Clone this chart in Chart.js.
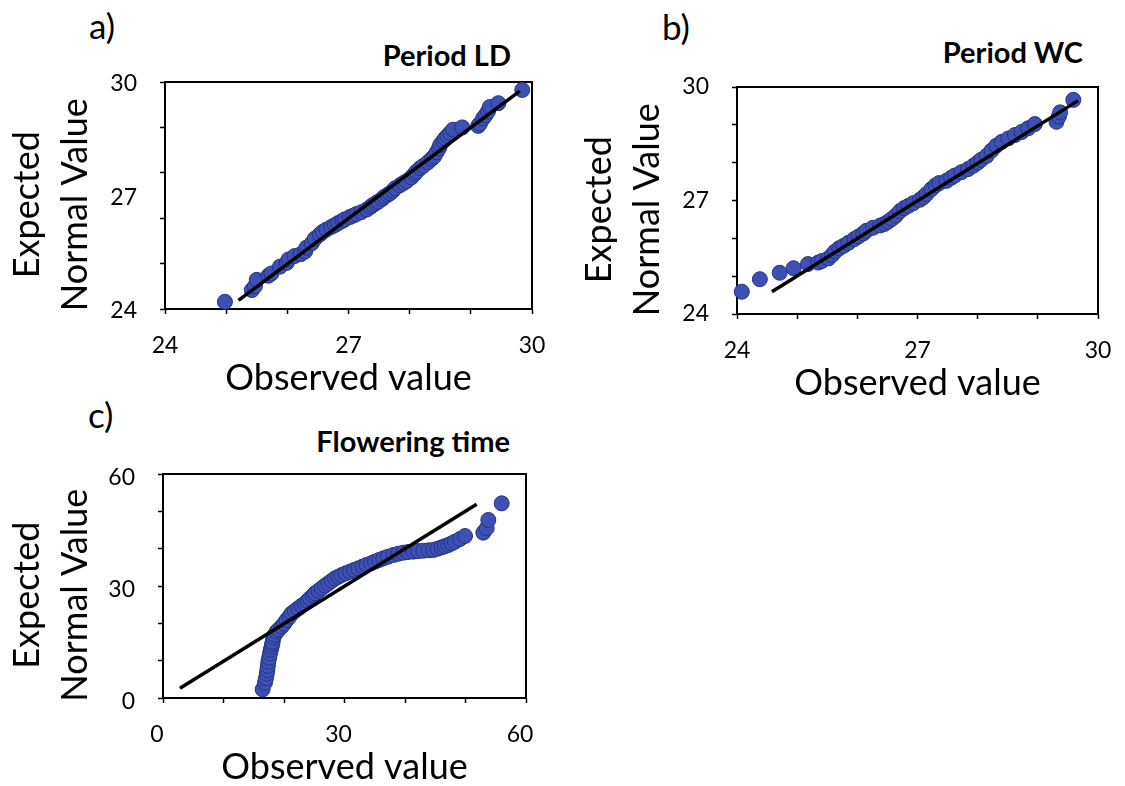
<!DOCTYPE html>
<html>
<head>
<meta charset="utf-8">
<title>Normal probability plots</title>
<script src="https://cdn.jsdelivr.net/npm/chart.js@4/dist/chart.umd.min.js"></script>
<style>
  html, body { margin: 0; padding: 0; background: #fff; overflow: hidden; }
  #page { position: relative; width: 1125px; height: 786px; overflow: hidden;
          font-family: Lato, "Open Sans", sans-serif; color: #000; }
  #page canvas { position: absolute; }
  .tag  { position: absolute; font-size: 35px; line-height: 1; white-space: nowrap; }
  .head { position: absolute; font-size: 29px; font-weight: 700; line-height: 1;
          white-space: nowrap; text-align: right; }
</style>
</head>
<body>
<div id="page">
  <div class="tag" style="left:89px; top:8px;">a)</div>
  <div class="tag" style="left:662px; top:9px;">b)</div>
  <div class="tag" style="left:88px; top:397px;">c)</div>
  <div class="head" style="right:614px; top:40px;">Period LD</div>
  <div class="head" style="right:42px; top:37px;">Period WC</div>
  <div class="head" style="right:615px; top:426px;">Flowering time</div>
  <canvas id="plotLD" width="560" height="350" style="left:0; top:60px;"></canvas>
  <canvas id="plotWC" width="553" height="350" style="left:572px; top:65px;"></canvas>
  <canvas id="plotFT" width="560" height="347" style="left:0; top:452px;"></canvas>
</div>

<script>
// ---- Period LD (hours): observed vs expected normal quantiles ----
const ldObserved = [24.98, 25.42, 25.47, 25.50, 25.69, 25.74, 25.88, 25.99, 26.02, 26.12,
  26.22, 26.29, 26.31, 26.40, 26.45, 26.53, 26.58, 26.64, 26.72, 26.78,
  26.83, 26.90, 26.94, 27.02, 27.08, 27.13, 27.21, 27.30, 27.36, 27.40,
  27.45, 27.49, 27.55, 27.59, 27.64, 27.68, 27.72, 27.76, 27.84, 27.90,
  27.95, 28.03, 28.08, 28.11, 28.17, 28.22, 28.30, 28.36, 28.40, 28.44,
  28.48, 28.50, 28.55, 28.58, 28.62, 28.66, 28.71, 28.86, 29.12, 29.15,
  29.20, 29.24, 29.28, 29.31, 29.45, 29.84];
const ldExpected = [24.19, 24.50, 24.60, 24.77, 24.88, 24.94, 25.12, 25.22, 25.31, 25.40,
  25.45, 25.52, 25.62, 25.74, 25.86, 25.97, 26.04, 26.10, 26.17, 26.22,
  26.27, 26.33, 26.37, 26.43, 26.47, 26.51, 26.56, 26.63, 26.70, 26.75,
  26.80, 26.84, 26.91, 26.97, 27.02, 27.06, 27.12, 27.19, 27.27, 27.33,
  27.38, 27.48, 27.57, 27.63, 27.72, 27.78, 27.88, 27.97, 28.03, 28.14,
  28.25, 28.34, 28.44, 28.51, 28.58, 28.65, 28.74, 28.80, 28.84, 28.90,
  29.04, 29.12, 29.22, 29.34, 29.44, 29.79];
const ldLineX = [25.20, 29.80];
const ldLineY = [24.23, 29.76];
const ldXMarks = [24, 25, 26, 27, 28, 29, 30];
const ldXLabels = [24, 27, 30];
const ldYMarks = [24, 25.2, 26.4, 27.6, 28.8, 30];
const ldYLabels = [24, 27, 30];

// ---- Period WC (hours) ----
const wcObserved = [24.08, 24.38, 24.71, 24.94, 25.18, 25.35, 25.41, 25.52, 25.58, 25.63,
  25.70, 25.77, 25.85, 25.95, 26.02, 26.10, 26.15, 26.26, 26.38, 26.45,
  26.51, 26.58, 26.64, 26.71, 26.78, 26.85, 26.93, 27.04, 27.10, 27.15,
  27.23, 27.30, 27.36, 27.48, 27.56, 27.62, 27.73, 27.84, 27.93, 28.00,
  28.06, 28.15, 28.23, 28.31, 28.40, 28.51, 28.62, 28.73, 28.84, 28.95,
  29.31, 29.35, 29.37, 29.59];
const wcExpected = [24.59, 24.92, 25.09, 25.21, 25.32, 25.36, 25.40, 25.47, 25.56, 25.65,
  25.74, 25.80, 25.88, 25.98, 26.05, 26.13, 26.20, 26.28, 26.34, 26.38,
  26.44, 26.52, 26.60, 26.72, 26.80, 26.86, 26.93, 27.02, 27.09, 27.17,
  27.30, 27.40, 27.46, 27.52, 27.60, 27.66, 27.75, 27.83, 27.92, 28.00,
  28.08, 28.18, 28.32, 28.45, 28.55, 28.64, 28.73, 28.81, 28.91, 29.02,
  29.08, 29.22, 29.33, 29.66];
const wcLineX = [24.58, 29.67];
const wcLineY = [24.59, 29.64];
const wcXMarks = [24, 25, 26, 27, 28, 29, 30];
const wcXLabels = [24, 27, 30];
const wcYMarks = [24, 25, 26, 27, 28, 29, 30];
const wcYLabels = [24, 27, 30];

// ---- Flowering time (days) ----
const ftObserved = [16.47, 16.85, 17.02, 17.15, 17.25, 17.33, 17.41, 17.55, 17.69, 17.82,
  17.96, 18.05, 18.13, 18.24, 18.45, 18.79, 19.10, 19.61, 20.00, 20.44,
  20.90, 21.27, 21.80, 22.37, 22.90, 23.47, 23.90, 24.30, 24.80, 25.12,
  25.70, 26.23, 26.80, 27.33, 27.90, 28.43, 29.00, 29.53, 30.20, 30.91,
  31.60, 32.29, 33.00, 33.66, 34.40, 35.04, 35.70, 36.42, 37.20, 38.07,
  38.90, 39.72, 40.50, 41.38, 42.20, 43.03, 43.90, 44.68, 45.40, 46.06,
  46.60, 47.16, 47.70, 48.26, 49.10, 49.92, 52.95, 53.50, 53.77, 55.98];
const ftExpected = [2.32, 4.10, 5.27, 6.50, 7.50, 8.60, 9.73, 10.80, 11.96, 12.90,
  13.75, 14.50, 15.09, 16.20, 16.90, 17.77, 18.30, 19.11, 19.90, 20.89,
  21.80, 22.68, 23.30, 24.02, 24.70, 25.36, 26.00, 26.70, 27.40, 28.04,
  28.70, 29.38, 30.10, 30.71, 31.40, 32.05, 32.50, 32.95, 33.40, 33.84,
  34.30, 34.73, 35.20, 35.63, 36.10, 36.52, 36.95, 37.41, 37.85, 38.30,
  38.65, 38.93, 39.10, 39.20, 39.35, 39.46, 39.55, 39.64, 40.00, 40.36,
  40.65, 40.98, 41.40, 41.88, 42.60, 43.39, 44.29, 45.45, 47.68, 52.14];
const ftLineX = [2.80, 51.85];
const ftLineY = [2.60, 51.90];
const ftXMarks = [0, 10, 20, 30, 40, 50, 60];
const ftXLabels = [0, 30, 60];
const ftYMarks = [0, 10, 20, 30, 40, 50, 60];
const ftYLabels = [0, 30, 60];

const POINT_FILL = '#3c51b3';
const POINT_EDGE = '#233383';

// Closed box around the plotting area (top and right sides included).
const framePlugin = {
  id: 'frame',
  beforeDatasetsDraw(chart) {
    const { ctx, chartArea: a } = chart;
    ctx.save();
    ctx.strokeStyle = '#000';
    ctx.lineWidth = 2;
    ctx.strokeRect(a.left, a.top, a.right - a.left, a.bottom - a.top);
    ctx.restore();
  }
};

function axisOptions(dir, min, max, marks, labels, s) {
  const values = [...new Set([...marks, ...labels])].sort((p, q) => p - q);
  const horizontal = dir === 'x';
  return {
    type: 'linear',
    position: horizontal ? 'bottom' : 'left',
    min, max,
    afterBuildTicks: scale => { scale.ticks = values.map(v => ({ value: v })); },
    afterFit: scale => {
      // fixed axis band sizes; the layout padding already leaves room for end labels
      if (horizontal) scale.height = s.xHeight; else scale.width = s.yWidth;
      scale.paddingTop = 0; scale.paddingBottom = 0;
      scale.paddingLeft = 0; scale.paddingRight = 0;
    },
    grid: {
      display: true,
      drawOnChartArea: false,
      drawTicks: true,
      tickLength: 5,
      tickWidth: 1.5,
      tickColor: c => (c.tick && marks.includes(c.tick.value)) ? '#000' : 'rgba(0,0,0,0)'
    },
    border: { display: true, color: '#000', width: 2 },
    ticks: {
      autoSkip: false,
      maxRotation: 0,
      minRotation: 0,
      color: '#000',
      padding: horizontal ? 18 : 23,
      labelOffset: horizontal ? (s.xLabelOffset || 0) : (s.yLabelOffset || 0),
      font: { size: 23 },
      callback: v => labels.includes(v) ? String(v) : ''
    },
    title: horizontal
      ? { display: true, text: 'Observed value', color: '#000',
          font: { size: 36, lineHeight: 1.2 }, padding: { top: 0, bottom: 10 } }
      // trailing spaces nudge the rotated two-line title slightly below the axis centre
      : { display: true, text: ['Expected  ', 'Normal Value  '], color: '#000',
          font: { size: 36, lineHeight: 1.34 }, padding: { top: 3, bottom: 0 } }
  };
}

function buildPanel(id, p) {
  const points = p.obs.map((x, i) => ({ x, y: p.exp[i] }));
  const fit = p.lineX.map((x, i) => ({ x, y: p.lineY[i] }));
  return new Chart(document.getElementById(id), {
    type: 'scatter',
    data: {
      datasets: [
        { data: fit, showLine: true, borderColor: '#000', borderWidth: 3.5,
          pointRadius: 0, pointHoverRadius: 0, clip: false },
        { data: points, backgroundColor: POINT_FILL, borderColor: POINT_EDGE,
          borderWidth: 1, pointRadius: 7.5, pointHoverRadius: 7.5, clip: false }
      ]
    },
    options: {
      responsive: false,
      animation: false,
      devicePixelRatio: 1,
      events: [],
      layout: { padding: { left: 0, top: 22, right: p.padRight, bottom: 0 } },
      plugins: { legend: { display: false }, tooltip: { enabled: false }, title: { display: false } },
      scales: {
        x: axisOptions('x', p.xMin, p.xMax, p.xMarks, p.xLabels, p),
        y: axisOptions('y', p.yMin, p.yMax, p.yMarks, p.yLabels, p)
      }
    },
    plugins: [framePlugin]
  });
}

function drawAll() {
  Chart.defaults.font.family = "Lato, 'Open Sans', sans-serif";
  Chart.defaults.color = '#000';

  buildPanel('plotLD', {
    obs: ldObserved, exp: ldExpected, lineX: ldLineX, lineY: ldLineY,
    xMin: 24, xMax: 30, yMin: 24, yMax: 30,
    xMarks: ldXMarks, xLabels: ldXLabels, yMarks: ldYMarks, yLabels: ldYLabels,
    padRight: 28, yWidth: 165, xHeight: 101, yLabelOffset: 2
  });
  buildPanel('plotWC', {
    obs: wcObserved, exp: wcExpected, lineX: wcLineX, lineY: wcLineY,
    xMin: 24, xMax: 30, yMin: 24, yMax: 30,
    xMarks: wcXMarks, xLabels: wcXLabels, yMarks: wcYMarks, yLabels: wcYLabels,
    padRight: 27, yWidth: 165, xHeight: 101
  });
  buildPanel('plotFT', {
    obs: ftObserved, exp: ftExpected, lineX: ftLineX, lineY: ftLineY,
    xMin: 0, xMax: 60, yMin: 0, yMax: 60,
    xMarks: ftXMarks, xLabels: ftXLabels, yMarks: ftYMarks, yLabels: ftYLabels,
    padRight: 34, yWidth: 163, xHeight: 101, xLabelOffset: -6, yLabelOffset: 4
  });
}

if (document.fonts && document.fonts.load) {
  Promise.all([document.fonts.load('36px Lato'), document.fonts.load('bold 29px Lato')])
    .then(drawAll, drawAll);
} else {
  drawAll();
}
</script>
</body>
</html>
